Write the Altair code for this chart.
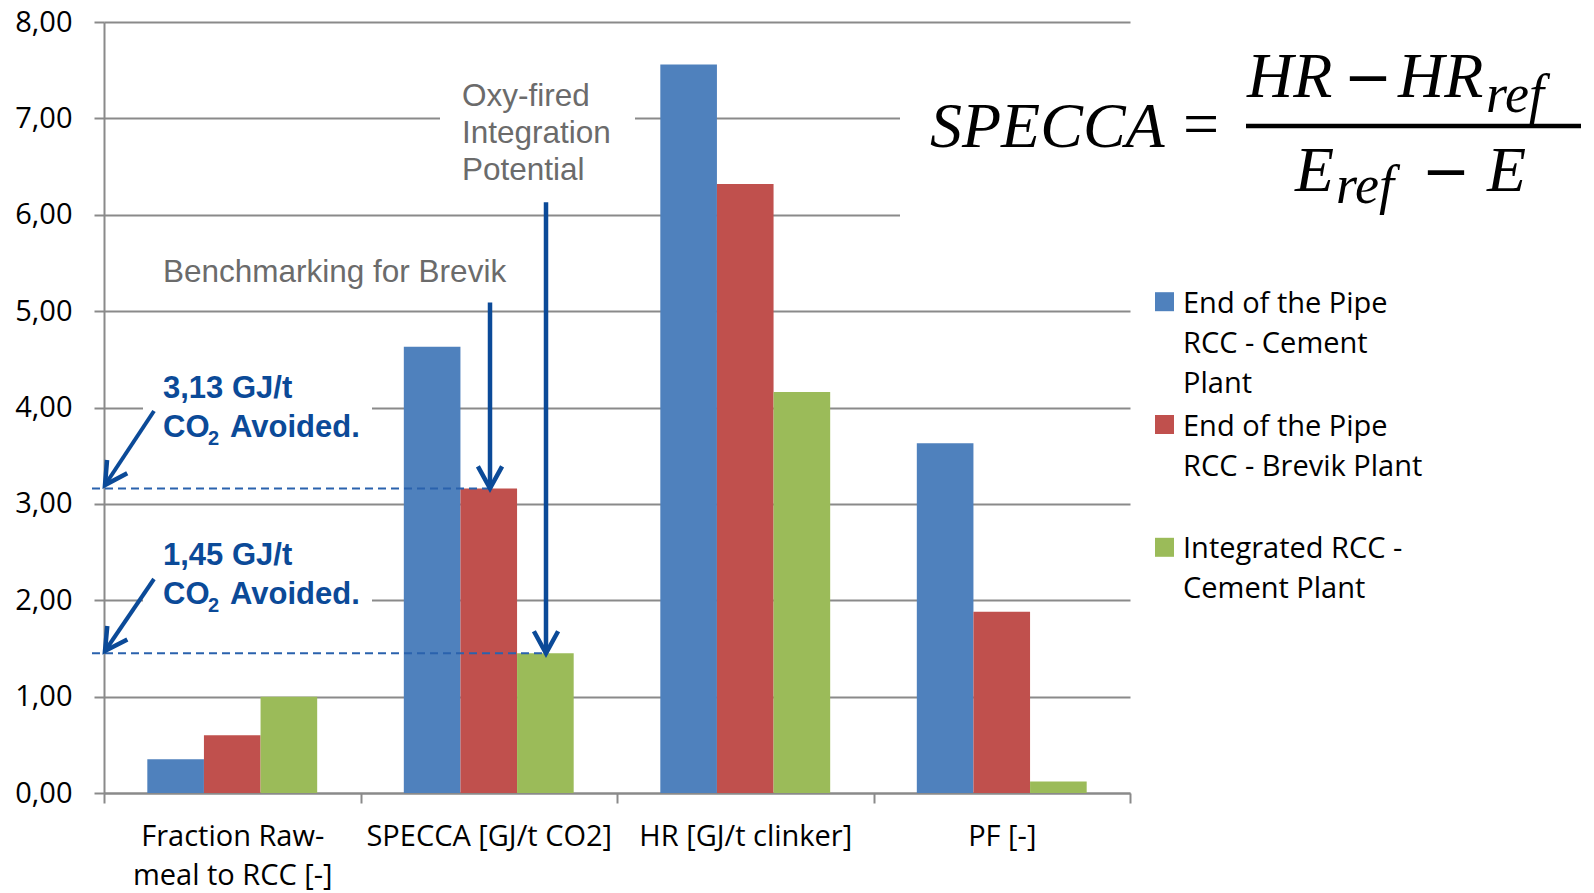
import altair as alt
import pandas as pd

# ---------------- data ----------------
categories = ["Fraction Raw-\nmeal to RCC [-]", "SPECCA [GJ/t CO2]", "HR [GJ/t clinker]", "PF [-]"]
series = ["End of the Pipe RCC - Cement Plant",
          "End of the Pipe RCC - Brevik Plant",
          "Integrated RCC - Cement Plant"]
legend_labels = ["End of the Pipe\nRCC - Cement\nPlant",
                 "End of the Pipe\nRCC - Brevik Plant",
                 "Integrated RCC -\nCement Plant"]
cement_plant = [0.35, 4.63, 7.56, 3.63]
brevik_plant = [0.60, 3.16, 6.32, 1.88]
integrated_plant = [1.00, 1.45, 4.16, 0.12]
y_ticks = [0, 1, 2, 3, 4, 5, 6, 7, 8]
brevik_level = 3.16
integrated_level = 1.45
brevik_arrow_top = 5.09
integrated_arrow_top = 6.13
note_brevik = "3,13 GJ/t"
note_integrated = "1,45 GJ/t"

# ---------------- styles / layout ----------------
colors = ["#4F81BD", "#C0504D", "#9BBB59"]
GRAY = "#8a8a8a"
ANN_BLUE = "#0B4A98"
DASH_BLUE = "#2A62AD"
TXT_GRAY = "#6b6b6b"
SANS = "Open Sans"
ARIAL = "Liberation Sans"
SERIF = "Liberation Serif"
OX, OY = 104, 22          # plot origin in page pixels
W, H = 1026, 771          # plot area

rows = []
for i, c in enumerate(categories):
    for s, vals in zip(series, [cement_plant, brevik_plant, integrated_plant]):
        rows.append({"category": c, "series": s, "value": vals[i]})
df = pd.DataFrame(rows)
blank = pd.DataFrame({"k": [0]})

bars = alt.Chart(df).mark_bar(opacity=1).encode(
    x=alt.X("category:N", sort=categories, title=None,
            scale=alt.Scale(paddingInner=0, paddingOuter=0),
            axis=alt.Axis(tickBand="extent", labelAngle=0, grid=False,
                          labelExpr="split(datum.label, '\\n')",
                          labelFont=SANS, labelFontSize=29, labelColor="black",
                          labelLineHeight=39, labelPadding=19, labelLimit=0,
                          tickSize=10, tickColor=GRAY, tickWidth=2,
                          domainColor=GRAY, domainWidth=2)),
    xOffset=alt.XOffset("series:N", sort=series,
                        scale=alt.Scale(paddingInner=0, paddingOuter=0.765)),
    y=alt.Y("value:Q", title=None,
            scale=alt.Scale(domain=[0, 8], nice=False, zero=True),
            axis=alt.Axis(values=y_ticks,
                          labelExpr="replace(format(datum.value, '.2f'), '.', ',')",
                          labelFont=SANS, labelFontSize=29, labelColor="black",
                          labelPadding=22, tickSize=10, tickColor=GRAY, tickWidth=2,
                          gridColor=GRAY, gridWidth=2,
                          domainColor=GRAY, domainWidth=2)),
    color=alt.Color("series:N", sort=series,
                    scale=alt.Scale(domain=series, range=colors), legend=None),
)


def yv(v):
    return v if not isinstance(v, (int, float)) else alt.value(v - OY)


def T(s, x, y, size, font, color, weight="normal", style="normal",
      align="left", baseline="alphabetic", lh=None):
    props = dict(font=font, fontSize=size, color=color, fontWeight=weight,
                 fontStyle=style, align=align, baseline=baseline, opacity=1)
    if "\n" in s:
        props["text"] = s.split("\n")
        props["lineHeight"] = lh
    else:
        props["text"] = s
    return alt.Chart(blank).mark_text(**props).encode(
        x=alt.value(x - OX), y=yv(y))


def R(x1, y1, x2, y2, color, width, dash=None):
    props = dict(color=color, strokeWidth=width, strokeCap="butt", opacity=1)
    if dash:
        props["strokeDash"] = dash
    enc = dict(x=alt.value(x1 - OX), y=yv(y1))
    if x2 != x1:
        enc["x2"] = alt.value(x2 - OX)
    if y2 is not None:
        enc["y2"] = yv(y2)
    return alt.Chart(blank).mark_rule(**props).encode(**enc)


def HEAD(x, y, angle=0):
    return alt.Chart(blank).mark_point(
        shape="M-0.55,-1L0,0L0.55,-1", size=1936, filled=False,
        stroke=ANN_BLUE, strokeWidth=4.5, opacity=1, angle=angle,
        strokeJoin="miter").encode(x=alt.value(x - OX), y=yv(y))


def BOX(x1, y1, x2, y2):
    return alt.Chart(blank).mark_rect(color="white", opacity=1).encode(
        x=alt.value(x1 - OX), x2=alt.value(x2 - OX),
        y=alt.value(y1 - OY), y2=alt.value(y2 - OY))


layers = [bars]

# white boxes hiding gridlines behind annotations
layers += [BOX(900, 35, 1136, 300), BOX(440, 75, 635, 195),
           BOX(143, 365, 372, 450), BOX(143, 530, 372, 615)]

# gray annotation texts
layers.append(T("Benchmarking for Brevik", 163, 282, 31.5, ARIAL, TXT_GRAY))
layers.append(T("Oxy-fired\nIntegration\nPotential", 462, 106, 31.5, ARIAL, TXT_GRAY, lh=37))

# dashed benchmark lines
layers.append(R(92, alt.datum(brevik_level), 490, None, DASH_BLUE, 2, [8, 5]))
layers.append(R(92, alt.datum(integrated_level), 546, None, DASH_BLUE, 2, [8, 5]))

# vertical arrows
layers.append(R(490, alt.datum(brevik_arrow_top), 490, alt.datum(brevik_level), ANN_BLUE, 4.5))
layers.append(HEAD(490, alt.datum(brevik_level)))
layers.append(R(546, alt.datum(integrated_arrow_top), 546, alt.datum(integrated_level), ANN_BLUE, 4.5))
layers.append(HEAD(546, alt.datum(integrated_level)))

# diagonal arrows
layers.append(R(154, 411, 105, 485, ANN_BLUE, 4))
layers.append(HEAD(105, 485, 33.5))
layers.append(R(154, 579, 105, 651, ANN_BLUE, 4))
layers.append(HEAD(105, 651, 34))

# blue bold notes
for label, base in [(note_brevik, 398), (note_integrated, 565)]:
    layers.append(T(label, 163, base, 31, ARIAL, ANN_BLUE, weight="bold"))
    layers.append(T("CO", 163, base + 38.5, 31, ARIAL, ANN_BLUE, weight="bold"))
    layers.append(T("2", 208, base + 47, 20, ARIAL, ANN_BLUE, weight="bold"))
    layers.append(T("Avoided.", 230, base + 38.5, 31, ARIAL, ANN_BLUE, weight="bold"))

# formula
MINUS_FONT = "DejaVu Sans"
layers.append(T("SPECCA", 930, 147, 64, SERIF, "black", style="italic"))
layers.append(T("=", 1201, 145, 64, SERIF, "black", align="center"))
layers.append(T("HR", 1247, 97, 64, SERIF, "black", style="italic"))
layers.append(T("\u2212", 1368, 97, 58, MINUS_FONT, "black", align="center"))
layers.append(T("HR", 1398, 97, 64, SERIF, "black", style="italic"))
layers.append(T("ref", 1486, 112, 54, SERIF, "black", style="italic"))
layers.append(R(1246, 126, 1581, 126, "black", 4.5))
layers.append(T("E", 1295, 191, 64, SERIF, "black", style="italic"))
layers.append(T("ref", 1336, 203, 54, SERIF, "black", style="italic"))
layers.append(T("\u2212", 1446, 191, 58, MINUS_FONT, "black", align="center"))
layers.append(T("E", 1487, 191, 64, SERIF, "black", style="italic"))

# legend
for k in range(3):
    base = 312.7 + 122.8 * k
    layers.append(alt.Chart(blank).mark_square(size=361, color=colors[k], opacity=1).encode(
        x=alt.value(1164.5 - OX), y=alt.value(base - 11 - OY)))
    layers.append(T(legend_labels[k], 1183, base, 29, SANS, "black", lh=40))

chart = alt.layer(*layers).properties(
    width=W, height=H,
    autosize=alt.AutoSizeParams(type="none"),
    padding={"left": OX, "top": OY, "right": 1594 - OX - W, "bottom": 893 - OY - H},
    background="white",
).configure_view(stroke=None)

chart.save("out.html", embed_options={"renderer": "svg", "actions": False})
